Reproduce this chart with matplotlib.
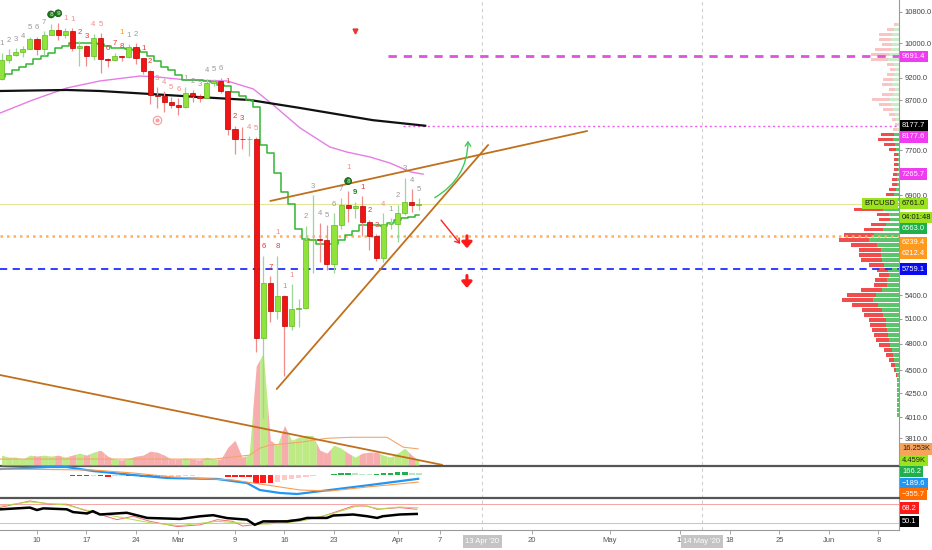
"""BTCUSD daily chart, Feb - Apr 2020, TradingView style."""

import matplotlib

matplotlib.use("Agg")
import matplotlib.pyplot as plt
import matplotlib.transforms as mtransforms
import numpy as np
import pandas as pd
from matplotlib.patches import FancyArrowPatch, Rectangle
from matplotlib.ticker import FuncFormatter, NullFormatter, NullLocator

plt.rcParams["font.family"] = ["Liberation Sans", "DejaVu Sans"]

# ---- data ---------------------------------------------------------------
origin = pd.Timestamp("2020-02-10")
dates = pd.date_range("2020-02-05", "2020-04-04", freq="D")

opens = [9170, 9613, 9730, 9795, 9865, 10116, 9856, 10208, 10326, 10214,
         10312, 9889, 9934, 9690, 10141, 9633, 9608, 9687, 9663, 9924,
         9650, 9341, 8820, 8784, 8672, 8599, 8562, 8869, 8787, 8755,
         9078, 9122, 8909, 8108, 7923, 7909, 7911, 4870, 5563, 5200,
         5392, 5014, 5225, 5238, 6191, 6198, 6185, 5830, 6416, 6734,
         6681, 6716, 6469, 6242, 5922, 6429, 6438, 6606, 6793, 6733]
highs = [9770, 9855, 9880, 9950, 10160, 10160, 10300, 10490, 10520, 10390,
         10380, 10050, 9960, 10240, 10250, 9650, 9770, 9700, 9980, 10000,
         9660, 9370, 8980, 8900, 8780, 8750, 8980, 8920, 8840, 9160,
         9170, 9190, 8910, 8180, 8150, 7970, 7950, 5950, 5660, 5950,
         5400, 5550, 5350, 6400, 6900, 6450, 6420, 6600, 6850, 6980,
         6790, 6880, 6500, 6270, 6600, 6520, 6740, 7200, 7000, 6850]
lows = [9150, 9535, 9700, 9670, 9860, 9730, 9730, 10200, 10090, 10130,
        9810, 9460, 9470, 9600, 9300, 9430, 9570, 9590, 9660, 9500,
        9270, 8620, 8540, 8450, 8550, 8400, 8530, 8660, 8660, 8750,
        9010, 8850, 8000, 7640, 7730, 7600, 4700, 4000, 5060, 5100,
        4440, 4960, 5000, 5230, 5700, 5860, 5750, 5700, 6350, 6460,
        6530, 6250, 6030, 5880, 5860, 6350, 6150, 6580, 6620, 6660]
closes = [9613, 9730, 9795, 9865, 10116, 9856, 10208, 10326, 10214, 10312,
          9889, 9934, 9690, 10141, 9633, 9608, 9687, 9663, 9924, 9650,
          9341, 8820, 8784, 8672, 8599, 8562, 8869, 8787, 8755, 9078,
          9122, 8909, 8108, 7923, 7909, 7911, 4870, 5563, 5200, 5392,
          5014, 5225, 5238, 6191, 6198, 6185, 5830, 6416, 6734, 6681,
          6716, 6469, 6242, 5922, 6429, 6438, 6606, 6793, 6733, 6761]
volume_k = [10, 8, 8, 6, 10, 9, 10, 9, 10, 8,
            10, 12, 10, 13, 15, 9, 6, 5, 7, 9,
            10, 14, 13, 10, 6, 6, 7, 6, 5, 8,
            6, 6, 18, 25, 8, 10, 100, 113, 25, 20,
            40, 25, 28, 30, 30, 15, 12, 20, 17, 12,
            8, 12, 13, 13, 10, 8, 12, 17, 10, 4.5]
trail_stop = [9210, 9290, 9380, 9440, 9500, 9620, 9700, 9780, 9880, 9940,
              10000, 10000, 10000, 10000, 9990, 9940, 9890, 9890, 9870, 9842,
              9790, 9700, 9580, 9430, 9372, 9259, 9150, 9150, 9140, 9120,
              9100, 9034, 9010, 8880, 8800, 8700, 8560, 7800, 7650, 7280,
              6950, 6750, 6350, 6200, 6190, 6120, 6120, 6120, 6180, 6260,
              6330, 6420, 6420, 6420, 6400, 6440, 6500, 6530, 6550, 6570]

ma50_days = [-5.2, -0.6, 4.2, 8.9, 14.6, 17, 21.2, 26.9, 30.6, 33.4, 37.2, 41.4, 43.8, 47.1, 49.9, 52.8, 54.6]
ma50_vals = [8437, 8709, 8968, 9124, 9235, 9213, 9146, 9124, 8947, 8604, 8134, 7764, 7669, 7576, 7466, 7306, 7265]
ma200_days = [-5.2, 4.2, 8.9, 16, 23, 30.1, 37.2, 47.5, 54.9]
ma200_vals = [8903, 8925, 8903, 8838, 8771, 8709, 8541, 8290, 8178]
vol_ma_days = [-5.2, 25, 30.1, 31.5, 32.9, 37.2, 41, 44.3, 49.5, 51.8, 53.9]
vol_ma_vals = [6, 6, 10, 17, 20, 23, 27, 28, 28, 18, 16.3]

macd_days = [-5.2, 1.8, 4.2, 7.9, 13.6, 18.4, 25.5, 29.7, 31.5, 34.4, 36.8, 41.4, 47.1, 53.9]
macd_vals = [300, 400, 400, 200, 0, -150, -200, -400, -750, -900, -950, -750, -500, -190]
signal_days = [-5.2, 7.9, 13.6, 19.2, 27.7, 32.5, 37.2, 41.4, 46.7, 53.9]
signal_vals = [300, 250, 100, -100, -250, -500, -750, -800, -600, -356]
macd_hist = [0, 10, 20, 20, 15, 10, 15, 10, 5, -10,
             -30, -40, -60, -50, -70, -75, -70, -60, -60, -70,
             -90, -120, -130, -120, -100, -80, -60, -40, -20, -10,
             -5, -20, -80, -100, -110, -120, -380, -400, -400, -330,
             -260, -200, -150, -100, -60, -20, 10, 60, 100, 110,
             90, 70, 50, 70, 100, 120, 130, 140, 100, 80]

rsi_days = [-5.2, -1, 0, 0.9, 4.2, 5.1, 7.1, 7.9, 8.9, 12.7, 15.6, 20.2, 23.1, 24.9, 26.9,
            29.7, 30.8, 32, 35.4, 37.2, 38.2, 41, 41.9, 44.7, 46.7, 48.1, 48.9, 51.3, 53.7]
rsi_vals = [58.9, 62.6, 57.4, 61, 59, 53, 50, 55, 47.8, 51.5, 40.4, 38.2, 44, 46.3, 40,
            36.7, 25.6, 33, 33, 36.7, 40.4, 40.4, 45.6, 47.8, 44, 40.4, 44, 47.8, 49]
stoch_k_days = [-5.2, -1, 1.8, 4.2, 7.1, 8.9, 11.3, 13.6, 16, 19.8, 23.1, 25.5, 27.7, 29.1,
                32.5, 36.2, 39.6, 41.9, 44.7, 46.7, 48.1, 51.3, 53.7]
stoch_k_vals = [63, 77, 70, 70, 55, 48, 36.7, 44, 33, 21.8, 25.6, 36.7, 33, 23,
                29, 36.7, 40, 51.5, 66, 66, 59, 62.6, 59]
stoch_d_days = [-5.2, -1, 4.2, 8.9, 16, 20.2, 25.5, 30.1, 32.5, 37.2, 41.9, 45.7, 48.5, 51.3, 53.9]
stoch_d_vals = [66, 75, 68, 50, 30, 24, 33, 28, 27, 33, 50, 68, 60, 64, 62]

# TD sequential counts: (day offset from 10 Feb, text, kind, stack level)
td_labels = [
    (-5, "1", "gray", 0), (-4, "2", "gray", 0), (-3, "3", "gray", 0), (-2, "4", "gray", 0),
    (-1, "5", "gray", 0), (0, "6", "gray", 0), (1, "7", "gray", 0), (2, "8", "circle", 0),
    (3, "9", "circle", 0), (4, "1", "pink", 0), (5, "1", "pink", 0), (6, "2", "red", 0),
    (7, "3", "red", 0), (8, "4", "pink", 0), (9, "5", "pink", 0), (10, "6", "red", 0),
    (11, "7", "red", 0), (12, "8", "red", 0), (12, "1", "orange", 1), (13, "1", "gray", 0),
    (14, "2", "gray", 0), (15, "1", "red", 0), (16, "2", "red", 0), (17, "3", "pink", 0),
    (18, "4", "pink", 0), (19, "5", "pink", 0), (20, "6", "pink", 0), (21, "1", "gray", 0),
    (22, "2", "gray", 0), (23, "3", "gray", 0), (24, "4", "gray", 0), (25, "5", "gray", 0),
    (26, "6", "gray", 0), (27, "1", "red", 0), (28, "2", "red", 0), (29, "3", "red", 0),
    (30, "4", "pink", 0), (31, "5", "pink", 0), (32, "6", "red", 0), (33, "7", "red", 0),
    (34, "8", "red", 0), (34, "1", "pink", 1), (35, "1", "gray", 0), (36, "1", "pink", 0),
    (38, "2", "gray", 0), (39, "3", "gray", 0), (40, "4", "gray", 0), (41, "5", "gray", 0),
    (42, "6", "gray", 0), (43, "7", "gray", 0), (44, "8", "circle", 0), (44, "1", "pink", 1),
    (45, "9", "dkgreen", 0), (46, "1", "red", 0), (47, "2", "red", 0), (48, "3", "red", 0),
    (49, "4", "pink", 0), (50, "1", "gray", 0), (51, "2", "gray", 0), (52, "3", "gray", 0),
    (53, "4", "gray", 0), (54, "5", "gray", 0),
]

# visible range volume profile, rows from top (10540) to bottom (4010)
profile_total = [5, 12, 20, 20, 17, 24, 28, 28, 12, 9, 12, 16, 17, 10, 17, 27, 20, 16, 10, 7,
                 4, 6, 18, 21, 15, 10, 5, 5, 5, 5, 6, 7, 7, 10, 13, 20, 27, 45, 22, 20,
                 28, 35, 55, 60, 48, 40, 40, 38, 30, 22, 20, 24, 25, 38, 52, 57, 47, 37, 35, 30,
                 29, 27, 25, 23, 20, 15, 13, 10, 8, 5, 3, 2, 2, 2, 2, 2, 2, 2, 2]
profile_buy_share = [0.4, 0.4, 0.35, 0.4, 0.4, 0.35, 0.35, 0.4, 0.4, 0.4, 0.4, 0.35, 0.4, 0.4, 0.35,
                     0.35, 0.4, 0.4, 0.4, 0.4, 0.5, 0.4, 0.3, 0.3, 0.3, 0.3, 0.3, 0.3, 0.3, 0.3,
                     0.3, 0.3, 0.35, 0.35, 0.35, 0.35, 0.4, 0.35, 0.45, 0.45, 0.45, 0.45, 0.45,
                     0.5, 0.45, 0.45, 0.45, 0.45, 0.5, 0.5, 0.5, 0.5, 0.5, 0.45, 0.45, 0.45, 0.45,
                     0.45, 0.45, 0.45, 0.45, 0.45, 0.45, 0.45, 0.45, 0.5, 0.5, 0.5, 0.5, 0.6,
                     0.7, 0.8, 0.8, 0.8, 0.8, 0.8, 0.8, 0.8, 0.8]

price_ticks = [10800, 10000, 9200, 8700, 7700, 6900, 5400, 5100, 4800, 4500, 4250, 4010, 3810]
tick_dates = ["2020-02-10", "2020-02-17", "2020-02-24", "2020-03-01", "2020-03-09", "2020-03-16",
              "2020-03-23", "2020-04-01", "2020-04-07", "2020-04-20", "2020-05-01", "2020-05-11",
              "2020-05-18", "2020-05-25", "2020-06-01", "2020-06-08"]
tick_labels = ["10", "17", "24", "Mar", "9", "16", "23", "Apr", "7", "20", "May", "11",
               "18", "25", "Jun", "8"]
marker_dates = ["2020-04-13", "2020-05-14"]
marker_labels = ["13 Apr '20", "14 May '20"]

# ---- figure ---------------------------------------------------------------
W, H = 932, 550
fig = plt.figure(figsize=(W / 100, H / 100), dpi=100)
ax = fig.add_axes([0, 1 - 465 / H, 899 / W, 465 / H])
macd_ax = fig.add_axes([0, 1 - 498 / H, 899 / W, 32 / H], sharex=ax)
rsi_ax = fig.add_axes([0, 1 - 530 / H, 899 / W, 32 / H], sharex=ax)
vol_ax = ax.twinx()
ax.set_zorder(vol_ax.get_zorder() + 1)
ax.patch.set_visible(False)

days = np.array((dates - origin).days, dtype=float)
o, h, l, c = (np.array(a, dtype=float) for a in (opens, highs, lows, closes))
up = c >= o

# volume area: each bar owns the piece between the midpoints to its neighbours
vol = np.array(volume_k, dtype=float)
n = len(days)
for i in range(n):
    xs = [days[i]]
    ys = [vol[i]]
    if i > 0:
        xs.insert(0, days[i] - 0.5)
        ys.insert(0, (vol[i - 1] + vol[i]) / 2)
    if i < n - 1:
        xs.append(days[i] + 0.5)
        ys.append((vol[i] + vol[i + 1]) / 2)
    col = "#bdea85" if up[i] else "#f7adad"
    vol_ax.fill_between(xs, 0, ys, color=col, lw=0, zorder=1)
vol_ax.plot(vol_ma_days, vol_ma_vals, color="#f2a66e", lw=0.8, zorder=2)
vol_ax.set_ylim(0, 470)
vol_ax.set_yticks([])
for s in vol_ax.spines.values():
    s.set_visible(False)

# volume profile on the right edge
prof_tr = mtransforms.blended_transform_factory(ax.transAxes, ax.transData)
edges = np.geomspace(10540, 4010, len(profile_total) + 1)
for i, (tot, share) in enumerate(zip(profile_total, profile_buy_share)):
    hi, lo = edges[i], edges[i + 1]
    g = (hi / lo) ** 0.12
    lo2, hi2 = lo * g, hi / g
    buy = tot * share / 899
    sell = tot * (1 - share) / 899
    light = lo > 8000
    gcol = "#c9ecc9" if light else "#5cc46c"
    rcol = "#f8c4c4" if light else "#f04d4d"
    ax.add_patch(Rectangle((1 - buy, lo2), buy, hi2 - lo2, transform=prof_tr, fc=gcol, ec="none", zorder=1))
    ax.add_patch(Rectangle((1 - buy - sell, lo2), sell, hi2 - lo2, transform=prof_tr, fc=rcol, ec="none", zorder=1))

# horizontal levels
xmax_day = 121.9
ax.axhline(6761.0, color="#e3e69a", lw=0.8, zorder=2)
ax.axhline(6239.4, color="#ffae5c", lw=1.8, dashes=(1.0, 1.6), zorder=2)
ax.axhline(5759.1, color="#1f2fff", lw=1.3, dashes=(4, 3), zorder=2)
ax.hlines(9691.4, 49.6, xmax_day, color="#e052e0", lw=2.0, linestyles=(0, (3, 2.5)), zorder=2)
ax.hlines(8177.6, 51.8, xmax_day, color="#ee5cee", lw=1.0, linestyles=(0, (1.5, 2)), zorder=2)

# moving averages and trailing stop
ax.plot(ma50_days, ma50_vals, color="#e57de5", lw=1.0, zorder=3)
ax.plot(ma200_days, ma200_vals, color="#111111", lw=1.6, zorder=3)
ax.plot(days, trail_stop, color="#33b533", lw=1.1, drawstyle="steps-mid", zorder=3)

# candles
body_lo = np.minimum(o, c)
body_hi = np.maximum(o, c)
ax.vlines(days, l, h, colors=np.where(up, "#9ed69a", "#f08c8c"), lw=0.9, zorder=4)
ax.bar(days, np.maximum(body_hi - body_lo, 8), bottom=body_lo, width=0.72,
       color=np.where(up, "#8fe33a", "#f01414"), edgecolor=np.where(up, "#62b822", "#b80000"),
       linewidth=0.5, zorder=5)

# trend lines
tl = dict(color="#c0701c", lw=1.3, zorder=6, solid_capstyle="round")
ax.plot([33.0, 77.8], [6804, 8073], **tl)
ax.plot([33.9, 63.8], [4296, 7802], **tl)
ax.plot([-5.23, 57.3], [4446, 3569], **tl)

# TD sequential counts
td_colors = {"gray": "#9a9a9a", "red": "#e53935", "pink": "#f28b8b", "orange": "#ff9800",
             "dkgreen": "#1e7b1e"}
for d, txt, kind, lvl in td_labels:
    i = int(d - days[0])
    if kind == "circle":
        ax.annotate(txt, xy=(d, h[i]), xytext=(0, 5 + 10 * lvl), textcoords="offset points",
                    ha="center", va="bottom", fontsize=4.6, color="#9fdc9f", fontweight="bold",
                    bbox=dict(boxstyle="circle,pad=0.15", fc="#1f7a1f", ec="#0e4d0e", lw=0.5), zorder=7)
    else:
        ax.annotate(txt, xy=(d, h[i]), xytext=(0, 4 + 10 * lvl), textcoords="offset points",
                    ha="center", va="bottom", fontsize=5.6, color=td_colors[kind],
                    fontweight="bold" if kind == "dkgreen" else "normal", zorder=7)

ax.plot([17], [8300], marker="o", ms=6, mfc="none", mec="#f4a3a3", mew=0.9, zorder=7)
ax.plot([17], [8300], marker="o", ms=2, color="#f4a3a3", zorder=7)
ax.plot([45], [10310], marker="v", ms=3.5, color="#e53935", zorder=7)

# arrows
ax.add_patch(FancyArrowPatch((55.9, 6836), (60.96, 7937), connectionstyle="arc3,rad=0.3",
                             arrowstyle="->,head_length=3,head_width=2", color="#3ccc5a", lw=1.0, zorder=7))
ax.add_patch(FancyArrowPatch((56.9, 6527), (60.1, 6094),
                             arrowstyle="->,head_length=3,head_width=2", color="#ff2020", lw=1.0, zorder=7))
for tip in (6060, 5500):
    ax.annotate("", xy=(60.8, tip), xytext=(0, 9), textcoords="offset points",
                arrowprops=dict(arrowstyle="-|>,head_length=0.35,head_width=0.3", lw=2.2,
                                color="#ff1a1a", shrinkA=0, shrinkB=0), zorder=7)

# ---- MACD pane ------------------------------------------------------------
hist = np.array(macd_hist, dtype=float)
prev = np.concatenate([[hist[0]], hist[:-1]])
hist_cols = np.where(hist >= 0, np.where(hist >= prev, "#22b04b", "#b8e6c0"),
                     np.where(hist <= prev, "#ff1a1a", "#ffc9c9"))
macd_ax.bar(days, hist, width=0.8, color=hist_cols, zorder=2)
macd_ax.plot(macd_days, macd_vals, color="#2196f3", lw=1.6, zorder=3)
macd_ax.plot(signal_days, signal_vals, color="#ff9a4d", lw=0.8, zorder=3)
macd_ax.set_ylim(-1150, 450)

# ---- RSI pane -------------------------------------------------------------
rsi_ax.axhline(70, color="#f5a5a5", lw=0.7)
rsi_ax.axhline(30, color="#b5cccc", lw=0.7)
rsi_ax.plot(stoch_k_days, stoch_k_vals, color="#f07070", lw=0.7, zorder=2)
rsi_ax.plot(stoch_d_days, stoch_d_vals, color="#b5dc50", lw=0.7, zorder=2)
rsi_ax.plot(rsi_days, rsi_vals, color="#000000", lw=1.8, zorder=3)
rsi_ax.set_ylim(14.4, 83.3)

# ---- vertical date markers ------------------------------------------------
marker_days = [(pd.Timestamp(d) - origin).days for d in marker_dates]
for a in (ax, macd_ax, rsi_ax):
    for md in marker_days:
        a.axvline(md, color="#cfcfcf", lw=0.8, dashes=(3, 3), zorder=0)

# ---- axes styling ---------------------------------------------------------
ax.set_yscale("log")
ax.set_ylim(3568, 11121)
ax.set_xlim(-5.23, xmax_day)
ax.yaxis.tick_right()
ax.set_yticks(price_ticks)
ax.yaxis.set_major_formatter(FuncFormatter(lambda v, p: f"{v:.1f}"))
ax.yaxis.set_minor_locator(NullLocator())
ax.yaxis.set_minor_formatter(NullFormatter())
ax.tick_params(axis="y", direction="out", length=2.5, width=0.6, color="#8a8a8a",
               labelsize=5.5, labelcolor="#444444", pad=1.5)
ax.tick_params(axis="x", bottom=False, labelbottom=False)
macd_ax.tick_params(axis="x", bottom=False, labelbottom=False)
for a in (macd_ax, rsi_ax):
    a.set_yticks([])

for a in (ax, macd_ax, rsi_ax):
    for s in a.spines.values():
        s.set_visible(False)
    a.spines["right"].set_visible(True)
    a.spines["right"].set_color("#9a9a9a")
    a.spines["right"].set_linewidth(0.8)
for a in (macd_ax, rsi_ax):
    a.spines["top"].set_visible(True)
    a.spines["top"].set_color("#555555")
    a.spines["top"].set_linewidth(1.6)
rsi_ax.spines["bottom"].set_visible(True)
rsi_ax.spines["bottom"].set_color("#9a9a9a")
rsi_ax.spines["bottom"].set_linewidth(0.8)

tick_days = [(pd.Timestamp(d) - origin).days for d in tick_dates]
rsi_ax.set_xticks(tick_days)
rsi_ax.set_xticklabels(tick_labels)
rsi_ax.tick_params(axis="x", direction="out", length=3, width=0.6, color="#9a9a9a",
                   labelsize=5.5, labelcolor="#555555", pad=2)
for md, lab in zip(marker_days, marker_labels):
    rsi_ax.annotate(lab, xy=(md, 0), xycoords=mtransforms.blended_transform_factory(rsi_ax.transData, rsi_ax.transAxes),
                    xytext=(0, -8.2), textcoords="offset points", ha="center", va="center",
                    fontsize=5.5, color="white", annotation_clip=False,
                    bbox=dict(boxstyle="square,pad=0.35", fc="#c4c4c4", ec="none"))


def tag(axis, value, text, bg, fg, dy_px=0):
    tr = mtransforms.blended_transform_factory(axis.transAxes, axis.transData)
    axis.annotate(text, xy=(1, value), xycoords=tr, xytext=(2.2, dy_px * 0.72),
                  textcoords="offset points", ha="left", va="center", fontsize=5.4, color=fg,
                  annotation_clip=False, zorder=10,
                  bbox=dict(boxstyle="square,pad=0.3", fc=bg, ec="none"))


magenta = "#f03cf0"
lime = "#9be31f"
tag(ax, 9691.4, "9691.4", magenta, "white")
tag(ax, 8177.7, "8177.7", "black", "white")
tag(ax, 8177.6, "8177.6", magenta, "white", -11)
tag(ax, 7265.7, "7265.7", magenta, "white")
tag(ax, 6761.0, "6761.0", lime, "#1a1a1a")
tag(ax, 6761.0, "04:01:48", lime, "#1a1a1a", -14)
tag(ax, 6563.0, "6563.0", "#1fb04b", "white", -13)
tag(ax, 6239.4, "6239.4", "#ff9a1f", "white", -6)
tag(ax, 6212.4, "6212.4", "#ff9a1f", "white", -15)
tag(ax, 5759.1, "5759.1", "#0b0bf0", "white")
ax.annotate("BTCUSD", xy=(1, 6761.0), xycoords=prof_tr, xytext=(-2.5, 0), textcoords="offset points",
            ha="right", va="center", fontsize=5.4, color="#1a1a1a", zorder=10,
            bbox=dict(boxstyle="square,pad=0.3", fc=lime, ec="none"))
tag(vol_ax, 16.253, "16.253K", "#f7a35c", "#222222")
tag(vol_ax, 4.459, "4.459K", lime, "#222222")
tag(macd_ax, 166.2, "166.2", "#1fb04b", "white")
tag(macd_ax, -189.6, "\u2212189.6", "#2196f3", "white", -5)
tag(macd_ax, -355.7, "\u2212355.7", "#ff6d00", "white", -12)
tag(rsi_ax, 68.2, "68.2", "#ff1a1a", "white", -3)
tag(rsi_ax, 50.1, "50.1", "black", "white", -8)

fig.savefig("out.png", dpi=100, facecolor="white")
